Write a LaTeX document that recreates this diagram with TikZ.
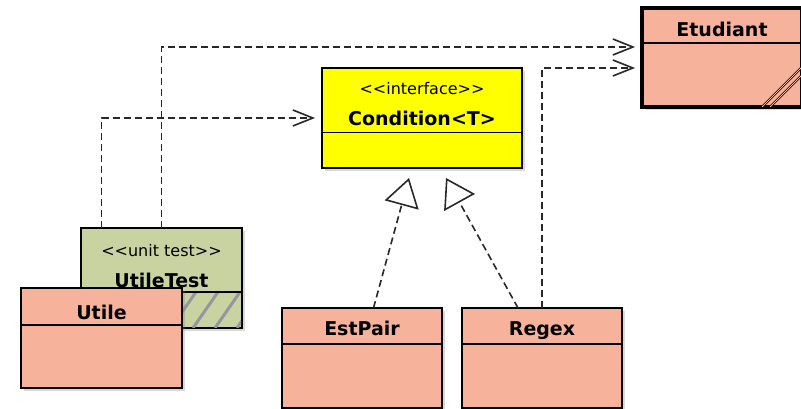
\documentclass[tikz,border=0pt]{standalone}
\usepackage{fontspec}
\setmainfont{DejaVu Sans}
\usetikzlibrary{arrows.meta,shadows}
\definecolor{salmon}{RGB}{246,178,155}
\definecolor{testgreen}{RGB}{200,211,161}
\definecolor{hatchgrey}{RGB}{150,150,158}
\definecolor{linegrey}{RGB}{40,40,40}
\definecolor{ifyellow}{RGB}{255,255,0}

\begin{document}
\begin{tikzpicture}[x=1pt,y=-1pt,
    classbox/.style={draw,line width=2pt,inner sep=0pt,outer sep=0pt,minimum width=160pt,minimum height=100pt,
      drop shadow={shadow xshift=3pt,shadow yshift=-3pt,opacity=0.3}},
    divider/.style={line width=1.6pt},
    cname/.style={anchor=base,inner sep=0pt,font=\bfseries\fontsize{19}{19}\selectfont},
    stereo/.style={anchor=base,inner sep=0pt,font=\fontsize{16}{16}\selectfont},
    depend/.style={draw=linegrey,line width=1.6pt,dash pattern=on 7pt off 4pt,-{Straight Barb[length=20pt,width=16pt]}},
    realize/.style={draw=linegrey,line width=1.6pt,dash pattern=on 7pt off 4pt,-{Triangle[open,length=28pt,width=35pt]}}]
    \useasboundingbox (0,0) rectangle (801,409);
    \node[classbox,fill=salmon,line width=3.5pt,minimum height=99pt] (Etudiant) at (722,57.5) {};
    \draw[divider] ([yshift=-35pt]Etudiant.north west) -- ([yshift=-35pt]Etudiant.north east);
    \node[cname] (EtudiantName) at ([yshift=-29pt]Etudiant.north) {Etudiant};
    \draw[double=salmon,double distance=1pt,line width=0.6pt] ([xshift=-40pt]Etudiant.south east) -- ++(40,-40);
    \draw[double=salmon,double distance=1pt,line width=0.6pt] ([xshift=-32pt]Etudiant.south east) -- ++(32,-32);
    \node[classbox,fill=ifyellow,minimum width=200pt] (Condition) at (422,118) {};
    \draw[divider] ([yshift=-64.5pt]Condition.north west) -- ([yshift=-64.5pt]Condition.north east);
    \node[stereo] (ConditionStereo) at ([yshift=-27pt]Condition.north) {<{}<interface>{}>};
    \node[cname] (ConditionName) at ([yshift=-58pt]Condition.north) {Condition<T>};
    \node[classbox,fill=testgreen,minimum width=161pt] (UtileTest) at (161.5,278) {};
    \begin{scope}
      \clip ([xshift=1pt,yshift=35pt]UtileTest.south west) rectangle ([xshift=-1pt,yshift=1pt]UtileTest.south east);
      \foreach \x in {-20,2,...,190}
        \draw[hatchgrey,line width=3pt] ([xshift=\x pt]UtileTest.south west) -- ++(25,-36);
    \end{scope}
    \draw[divider] ([yshift=36pt]UtileTest.south west) -- ([yshift=36pt]UtileTest.south east);
    \node[stereo] (UtileTestStereo) at ([yshift=-28.5pt]UtileTest.north) {<{}<unit test>{}>};
    \node[cname] (UtileTestName) at ([yshift=-59pt]UtileTest.north) {UtileTest};
    \node[classbox,fill=salmon,minimum width=161pt] (Utile) at (101.5,338) {};
    \draw[divider] ([yshift=-37pt]Utile.north west) -- ([yshift=-37pt]Utile.north east);
    \node[cname] (UtileName) at ([yshift=-31pt]Utile.north) {Utile};
    \node[classbox,fill=salmon] (EstPair) at (362,358) {};
    \draw[divider] ([yshift=-36pt]EstPair.north west) -- ([yshift=-36pt]EstPair.north east);
    \node[cname] (EstPairName) at ([yshift=-27pt]EstPair.north) {EstPair};
    \node[classbox,fill=salmon] (Regex) at (542,358) {};
    \draw[divider] ([yshift=-36pt]Regex.north west) -- ([yshift=-36pt]Regex.north east);
    \node[cname] (RegexName) at ([yshift=-27pt]Regex.north) {Regex};
    \draw[realize] ([xshift=11.5pt]EstPair.north) -- ([xshift=-13pt,yshift=-10pt]Condition.south);
    \draw[realize] ([xshift=-24pt]Regex.north) -- ([xshift=24pt,yshift=-10pt]Condition.south);
    \draw[depend] ([xshift=-60pt]UtileTest.north) |- ([xshift=-7pt]Condition.west);
    \draw[depend] (UtileTest.north) |- ([xshift=-7pt,yshift=10.5pt]Etudiant.west);
    \draw[depend] (Regex.north) |- ([xshift=-7pt,yshift=-10.5pt]Etudiant.west);
\end{tikzpicture}
\end{document}
